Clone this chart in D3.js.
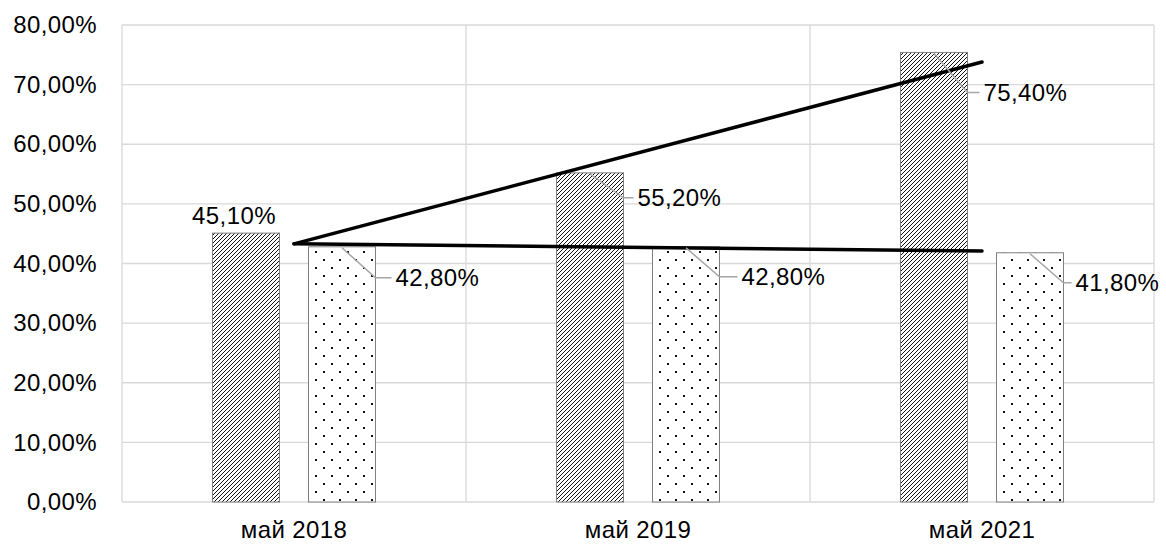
<!DOCTYPE html>
<html>
<head>
<meta charset="utf-8">
<script src="https://cdn.jsdelivr.net/npm/d3@7"></script>
<style>
  body { margin: 0; background: #fff; }
  text { font-family: "Liberation Sans", Arial, sans-serif; fill: #000; letter-spacing: 0.4px; }
</style>
</head>
<body>
<div id="chart"></div>
<script>
const categories = ["май 2018", "май 2019", "май 2021"]
const seriesA = [0.451, 0.552, 0.754]   // hatched bars
const seriesB = [0.428, 0.428, 0.418]   // dotted bars
const yTicks = [0, 0.1, 0.2, 0.3, 0.4, 0.5, 0.6, 0.7, 0.8]
// the two straight lines drawn over the bars (start / end value)
const trendUp = [{ cat: "май 2018", v: 0.433 }, { cat: "май 2021", v: 0.738 }]
const trendFlat = [{ cat: "май 2018", v: 0.433 }, { cat: "май 2021", v: 0.421 }]

const width = 1166, height = 544
const margin = { top: 25, right: 12, bottom: 42, left: 122 }
const fontSize = 24

const svg = d3.select("#chart").append("svg")
  .attr("width", width)
  .attr("height", height)

const defs = svg.append("defs")
const hatch = defs.append("pattern")
  .attr("id", "hatch")
  .attr("patternUnits", "userSpaceOnUse")
  .attr("width", 4).attr("height", 4)
hatch.append("rect").attr("width", 4).attr("height", 4).attr("fill", "#fff")
hatch.append("path")
  .attr("d", "M-1,1 l2,-2 M0,4 l4,-4 M3,5 l2,-2")
  .attr("stroke", "#111").attr("stroke-width", 1)

const dots = defs.append("pattern")
  .attr("id", "dots")
  .attr("patternUnits", "userSpaceOnUse")
  .attr("width", 16).attr("height", 16)
dots.append("rect").attr("width", 16).attr("height", 16).attr("fill", "#fff")
dots.append("rect").attr("x", 3).attr("y", 3).attr("width", 2).attr("height", 2).attr("fill", "#111")
dots.append("rect").attr("x", 11).attr("y", 11).attr("width", 2).attr("height", 2).attr("fill", "#111")

const x = d3.scaleBand()
  .domain(categories)
  .range([margin.left, width - margin.right])
const xInner = d3.scaleBand()
  .domain(["A", "B"])
  .range([0, x.bandwidth()])
  .paddingInner(0.302)
  .paddingOuter(0.943)
const y = d3.scaleLinear()
  .domain([0, 0.8])
  .range([height - margin.bottom, margin.top])

const fmt = v => d3.format(".2%")(v).replace(".", ",")

// gridlines
svg.append("g")
  .selectAll("line")
  .data(yTicks)
  .join("line")
  .attr("x1", margin.left).attr("x2", width - margin.right)
  .attr("y1", d => y(d)).attr("y2", d => y(d))
  .attr("stroke", "#d9d9d9").attr("stroke-width", 1.3)
svg.append("g")
  .selectAll("line")
  .data(categories.concat(["end"]))
  .join("line")
  .attr("x1", (d, i) => i < categories.length ? x(d) : x.range()[1])
  .attr("x2", (d, i) => i < categories.length ? x(d) : x.range()[1])
  .attr("y1", y(0.8)).attr("y2", y(0))
  .attr("stroke", "#d9d9d9").attr("stroke-width", 1.3)

// y axis labels
const yAxis = d3.axisLeft(y).tickValues(yTicks).tickFormat(fmt).tickSize(0).tickPadding(25)
svg.append("g")
  .attr("transform", `translate(${margin.left},0)`)
  .call(yAxis)
  .call(g => g.select(".domain").remove())
  .selectAll("text")
  .attr("font-size", fontSize)
  .attr("font-family", null)

// x axis labels
const xAxis = d3.axisBottom(x).tickSize(0).tickPadding(19)
svg.append("g")
  .attr("transform", `translate(0,${height - margin.bottom})`)
  .call(xAxis)
  .call(g => g.select(".domain").remove())
  .selectAll("text")
  .attr("font-size", fontSize)
  .attr("font-family", null)

// bars
const series = [
  { key: "A", values: seriesA, fill: "url(#hatch)" },
  { key: "B", values: seriesB, fill: "url(#dots)" }
]
series.forEach(s => {
  svg.append("g")
    .selectAll("rect")
    .data(s.values)
    .join("rect")
    .attr("x", (d, i) => x(categories[i]) + xInner(s.key))
    .attr("y", d => y(d))
    .attr("width", xInner.bandwidth())
    .attr("height", d => y(0) - y(d))
    .attr("fill", s.fill)
    .attr("stroke", "#7f7f7f").attr("stroke-width", 1)
})

// trend lines
const line = d3.line()
  .x(d => x(d.cat) + x.bandwidth() / 2)
  .y(d => y(d.v))
;[trendUp, trendFlat].forEach(t => {
  svg.append("path")
    .datum(t)
    .attr("d", line)
    .attr("fill", "none")
    .attr("stroke", "#000")
    .attr("stroke-width", 3.5)
    .attr("stroke-linecap", "round")
})

// data labels: [dx after bar edge, dy below bar top] or null for label above
const labelOffsets = {
  A: [null, [10, 25], [12, 40]],
  B: [[16, 31], [18, 30], [8, 30]]
}
series.forEach(s => {
  s.values.forEach((v, i) => {
    const bx = x(categories[i]) + xInner(s.key)
    const bw = xInner.bandwidth()
    const top = y(v)
    const off = labelOffsets[s.key][i]
    if (!off) {
      svg.append("text")
        .attr("x", bx + bw / 2 - 12).attr("y", top - 9)
        .attr("text-anchor", "middle")
        .attr("font-size", fontSize)
        .text(fmt(v))
      return
    }
    const cx = bx + bw / 2, ex = bx + bw, ey = top + off[1]
    svg.append("path")
      .attr("d", `M${cx},${top + 1}L${ex},${ey}L${ex + off[0]},${ey}`)
      .attr("fill", "none")
      .attr("stroke", "#a6a6a6").attr("stroke-width", 1.5)
    svg.append("text")
      .attr("x", ex + off[0] + 4).attr("y", ey)
      .attr("dy", "0.35em")
      .attr("font-size", fontSize)
      .text(fmt(v))
  })
})
</script>
</body>
</html>
